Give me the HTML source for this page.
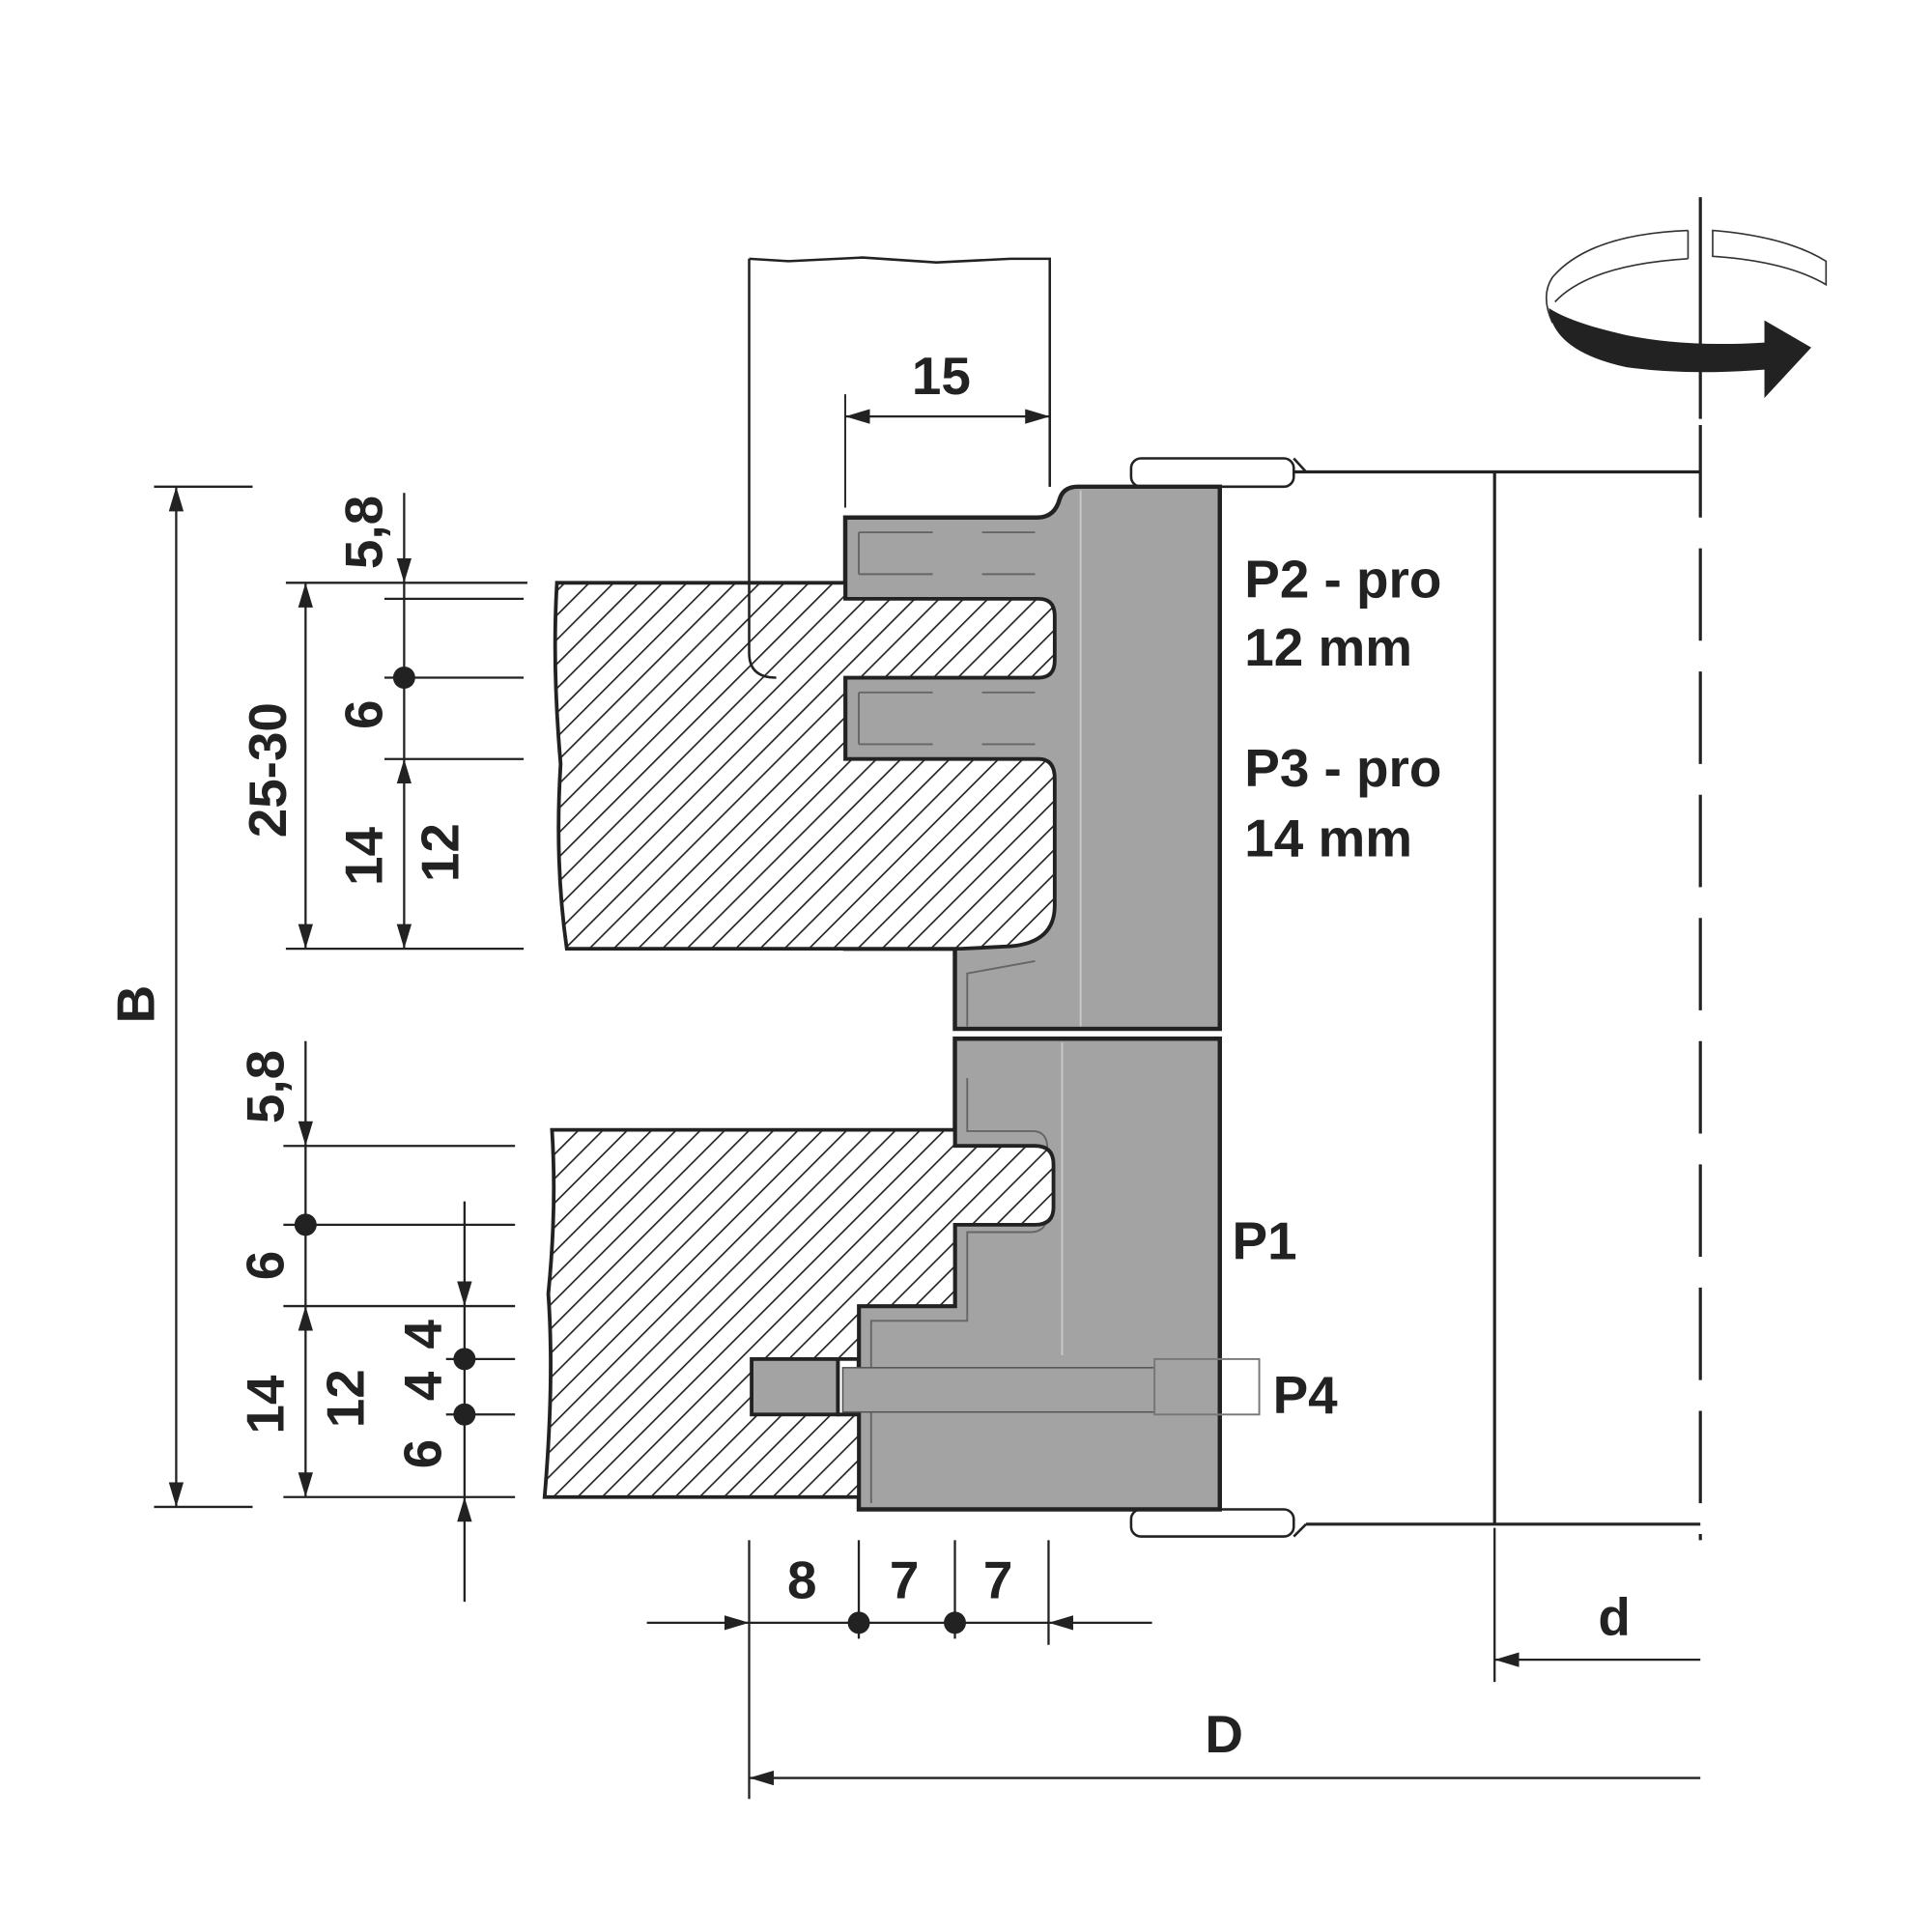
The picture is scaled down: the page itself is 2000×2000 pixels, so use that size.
<!DOCTYPE html>
<html><head><meta charset="utf-8"><style>html,body{margin:0;padding:0;background:#fff}svg{display:block}</style></head>
<body>
<svg width="2000" height="2000" viewBox="0 0 1568 1568" xmlns="http://www.w3.org/2000/svg" font-family="Liberation Sans, Arial, sans-serif" font-weight="bold">
<defs>
<pattern id="h" patternUnits="userSpaceOnUse" width="14" height="14" patternTransform="rotate(45)">
<rect width="14" height="14" fill="#fff"/><line x1="0" y1="0" x2="0" y2="14" stroke="#222" stroke-width="2.6"/>
</pattern>
<marker id="a" viewBox="0 0 20 12" refX="20" refY="6" markerWidth="20" markerHeight="12" markerUnits="userSpaceOnUse" orient="auto-start-reverse"><path d="M0,0 L20,6 L0,12 Z" fill="#222"/></marker>
</defs>
<g stroke="#222" fill="none" stroke-width="2">
<path d="M608,210 L640,212 L700,209 L760,213 L820,210 L852,210 L852,395" />
<path d="M608,210 L608,530 Q608,550 630,550 L690,550" />

<path d="M1050,383 L1380,383 M1213,383 L1213,1237 M1060,1237 L1380,1237" stroke-width="2.5"/>
<path d="M1050,372 L1060,383 M1050,1247 L1060,1237" />
<rect x="918" y="372" width="132" height="23" rx="8" fill="#fff"/>
<rect x="918" y="1225" width="132" height="22" rx="8" fill="#fff"/>
<path d="M1380,160 L1380,340" stroke-width="2.5"/>
<path d="M1380,345 L1380,1250" stroke-dasharray="75,25" stroke-width="2.5"/>

<path d="M686,420 L842,420 Q856,420 860,405 Q863,395 875,395 L990,395 L990,835 L775,835 L775,770 L686,770 Z" fill="#a3a3a3" stroke-width="3.5"/>
<path d="M775,843 L990,843 L990,1225 L697,1225 L697,1060 L775,1060 Z" fill="#a3a3a3" stroke-width="3.5"/>
<path d="M877,398 L877,833 M862,846 L862,1100" stroke="#c8c8c8" stroke-width="1.5"/>
<path d="M697,432 L840,432 M697,466 L840,466 M697,432 L697,466 M697,562 L840,562 M697,604 L840,604 M697,562 L697,604" stroke="#666" stroke-width="1.5" stroke-dasharray="60,40"/>
<path d="M785,875 L785,918 L838,918 Q850,918 850,932 L850,985 Q850,1000 836,1000 L785,1000 L785,1072 L707,1072 L707,1220" stroke="#666" stroke-width="1.5"/>
<path d="M785,833 L785,790 L840,780" stroke="#666" stroke-width="1.5"/>

<path d="M452,473 L686,473 L686,486 L843,486 Q856,486 856,500 L856,536 Q856,550 843,550 L686,550 L686,616 L843,616 Q856,616 856,632 L856,735 Q856,765 820,768 L780,770 L460,770 Q450,700 455,620 Q448,540 452,473 Z" fill="url(#h)" stroke-width="3"/>
<path d="M608,473 L608,530 Q608,550 630,550" />
<path d="M448,917 L775,917 L775,930 L840,930 Q855,930 855,945 L855,980 Q855,994 840,994 L775,994 L775,1060 L697,1060 L697,1103 L680,1103 L680,1148 L697,1148 L697,1215 L442,1215 Q450,1120 445,1050 Q452,980 448,917 Z" fill="url(#h)" stroke-width="3"/>
<rect x="610" y="1103" width="70" height="45" fill="#a3a3a3" stroke-width="3"/>
<rect x="684" y="1110" width="253" height="36" fill="#a3a3a3" stroke="#555" stroke-width="1.2"/>
<rect x="937" y="1103" width="85" height="45" fill="none" stroke="#777" stroke-width="1.5"/>

<path d="M686,320 L686,412 M852,320 L852,395" stroke-width="1.5"/>
<path d="M686,338 L852,338" marker-start="url(#a)" marker-end="url(#a)" stroke-width="1.8"/>
<path d="M125,395 L205,395 M125,1223 L205,1223" stroke-width="1.8"/>
<path d="M143,395 L143,1223" marker-start="url(#a)" marker-end="url(#a)" stroke-width="1.8"/>
<path d="M232,473 L428,473 M312,486 L425,486 M312,550 L425,550 M312,616 L425,616 M232,770 L425,770" stroke-width="1.8"/>
<path d="M248,473 L248,770" marker-start="url(#a)" marker-end="url(#a)" stroke-width="1.8"/>
<path d="M328,400 L328,473" marker-end="url(#a)" stroke-width="1.8"/>
<path d="M328,473 L328,616" stroke-width="1.8"/>
<path d="M328,616 L328,770" marker-start="url(#a)" marker-end="url(#a)" stroke-width="1.8"/>
<path d="M230,930 L418,930 M230,994 L418,994 M230,1060 L418,1060 M362,1103 L418,1103 M362,1148 L418,1148 M230,1215 L418,1215" stroke-width="1.8"/>
<path d="M248,845 L248,930" marker-end="url(#a)" stroke-width="1.8"/>
<path d="M248,930 L248,1060" stroke-width="1.8"/>
<path d="M248,1060 L248,1215" marker-start="url(#a)" marker-end="url(#a)" stroke-width="1.8"/>
<path d="M377,975 L377,1060" marker-end="url(#a)" stroke-width="1.8"/>
<path d="M377,1060 L377,1215" stroke-width="1.8"/>
<path d="M377,1300 L377,1215" marker-end="url(#a)" stroke-width="1.8"/>
<path d="M608,1250 L608,1460 M697,1250 L697,1330 M775,1250 L775,1330 M851,1250 L851,1335 M1213,1240 L1213,1365" stroke-width="1.8"/>
<path d="M525,1317 L608,1317" marker-end="url(#a)" stroke-width="1.8"/>
<path d="M608,1317 L851,1317" stroke-width="1.8"/>
<path d="M935,1317 L851,1317" marker-end="url(#a)" stroke-width="1.8"/>
<path d="M1380,1347 L1213,1347" marker-end="url(#a)" stroke-width="1.8"/>
<path d="M1380,1443 L608,1443" marker-end="url(#a)" stroke-width="1.8"/>
</g>
<g fill="#222">
<circle cx="328" cy="550" r="9"/><circle cx="248" cy="994" r="9"/>
<circle cx="377" cy="1103" r="9"/><circle cx="377" cy="1148" r="9"/>
<circle cx="697" cy="1317" r="9"/><circle cx="775" cy="1317" r="9"/>
</g>
<g stroke="#333" fill="none" stroke-width="1.3">
<path d="M1370,187 Q1290,190 1260,225 Q1250,240 1260,262 M1370,210 Q1290,215 1262,245 M1370,187 L1370,210"/>
<path d="M1390,187 Q1450,192 1482,212 L1482,231 Q1450,212 1390,208 Z"/>
</g>
<path d="M1257,250 Q1260,285 1320,298 Q1370,305 1432,300 L1432,323 L1470,282 L1432,260 L1432,278 Q1370,282 1320,272 Q1275,262 1257,250 Z" fill="#222"/>
<g fill="#222" font-size="43">
<text x="1010" y="485">P2 - pro</text>
<text x="1010" y="540">12 mm</text>
<text x="1010" y="638">P3 - pro</text>
<text x="1010" y="695">14 mm</text>
<text x="1000" y="1022">P1</text>
<text x="1033" y="1147">P4</text>
<text x="740" y="320">15</text>
<text x="639" y="1297">8</text>
<text x="722" y="1297">7</text>
<text x="798" y="1297">7</text>
<text x="1297" y="1327">d</text>
<text x="978" y="1422">D</text>
<text transform="translate(125,815) rotate(-90)" text-anchor="middle">B</text>
<text transform="translate(232,625) rotate(-90)" text-anchor="middle">25-30</text>
<text transform="translate(310,432) rotate(-90)" text-anchor="middle">5,8</text>
<text transform="translate(310,580) rotate(-90)" text-anchor="middle">6</text>
<text transform="translate(310,695) rotate(-90)" text-anchor="middle">14</text>
<text transform="translate(372,692) rotate(-90)" text-anchor="middle">12</text>
<text transform="translate(230,882) rotate(-90)" text-anchor="middle">5,8</text>
<text transform="translate(230,1027) rotate(-90)" text-anchor="middle">6</text>
<text transform="translate(230,1140) rotate(-90)" text-anchor="middle">14</text>
<text transform="translate(295,1135) rotate(-90)" text-anchor="middle">12</text>
<text transform="translate(358,1083) rotate(-90)" text-anchor="middle">4</text>
<text transform="translate(358,1125) rotate(-90)" text-anchor="middle">4</text>
<text transform="translate(358,1180) rotate(-90)" text-anchor="middle">6</text>
</g>
</svg>
</body></html>
